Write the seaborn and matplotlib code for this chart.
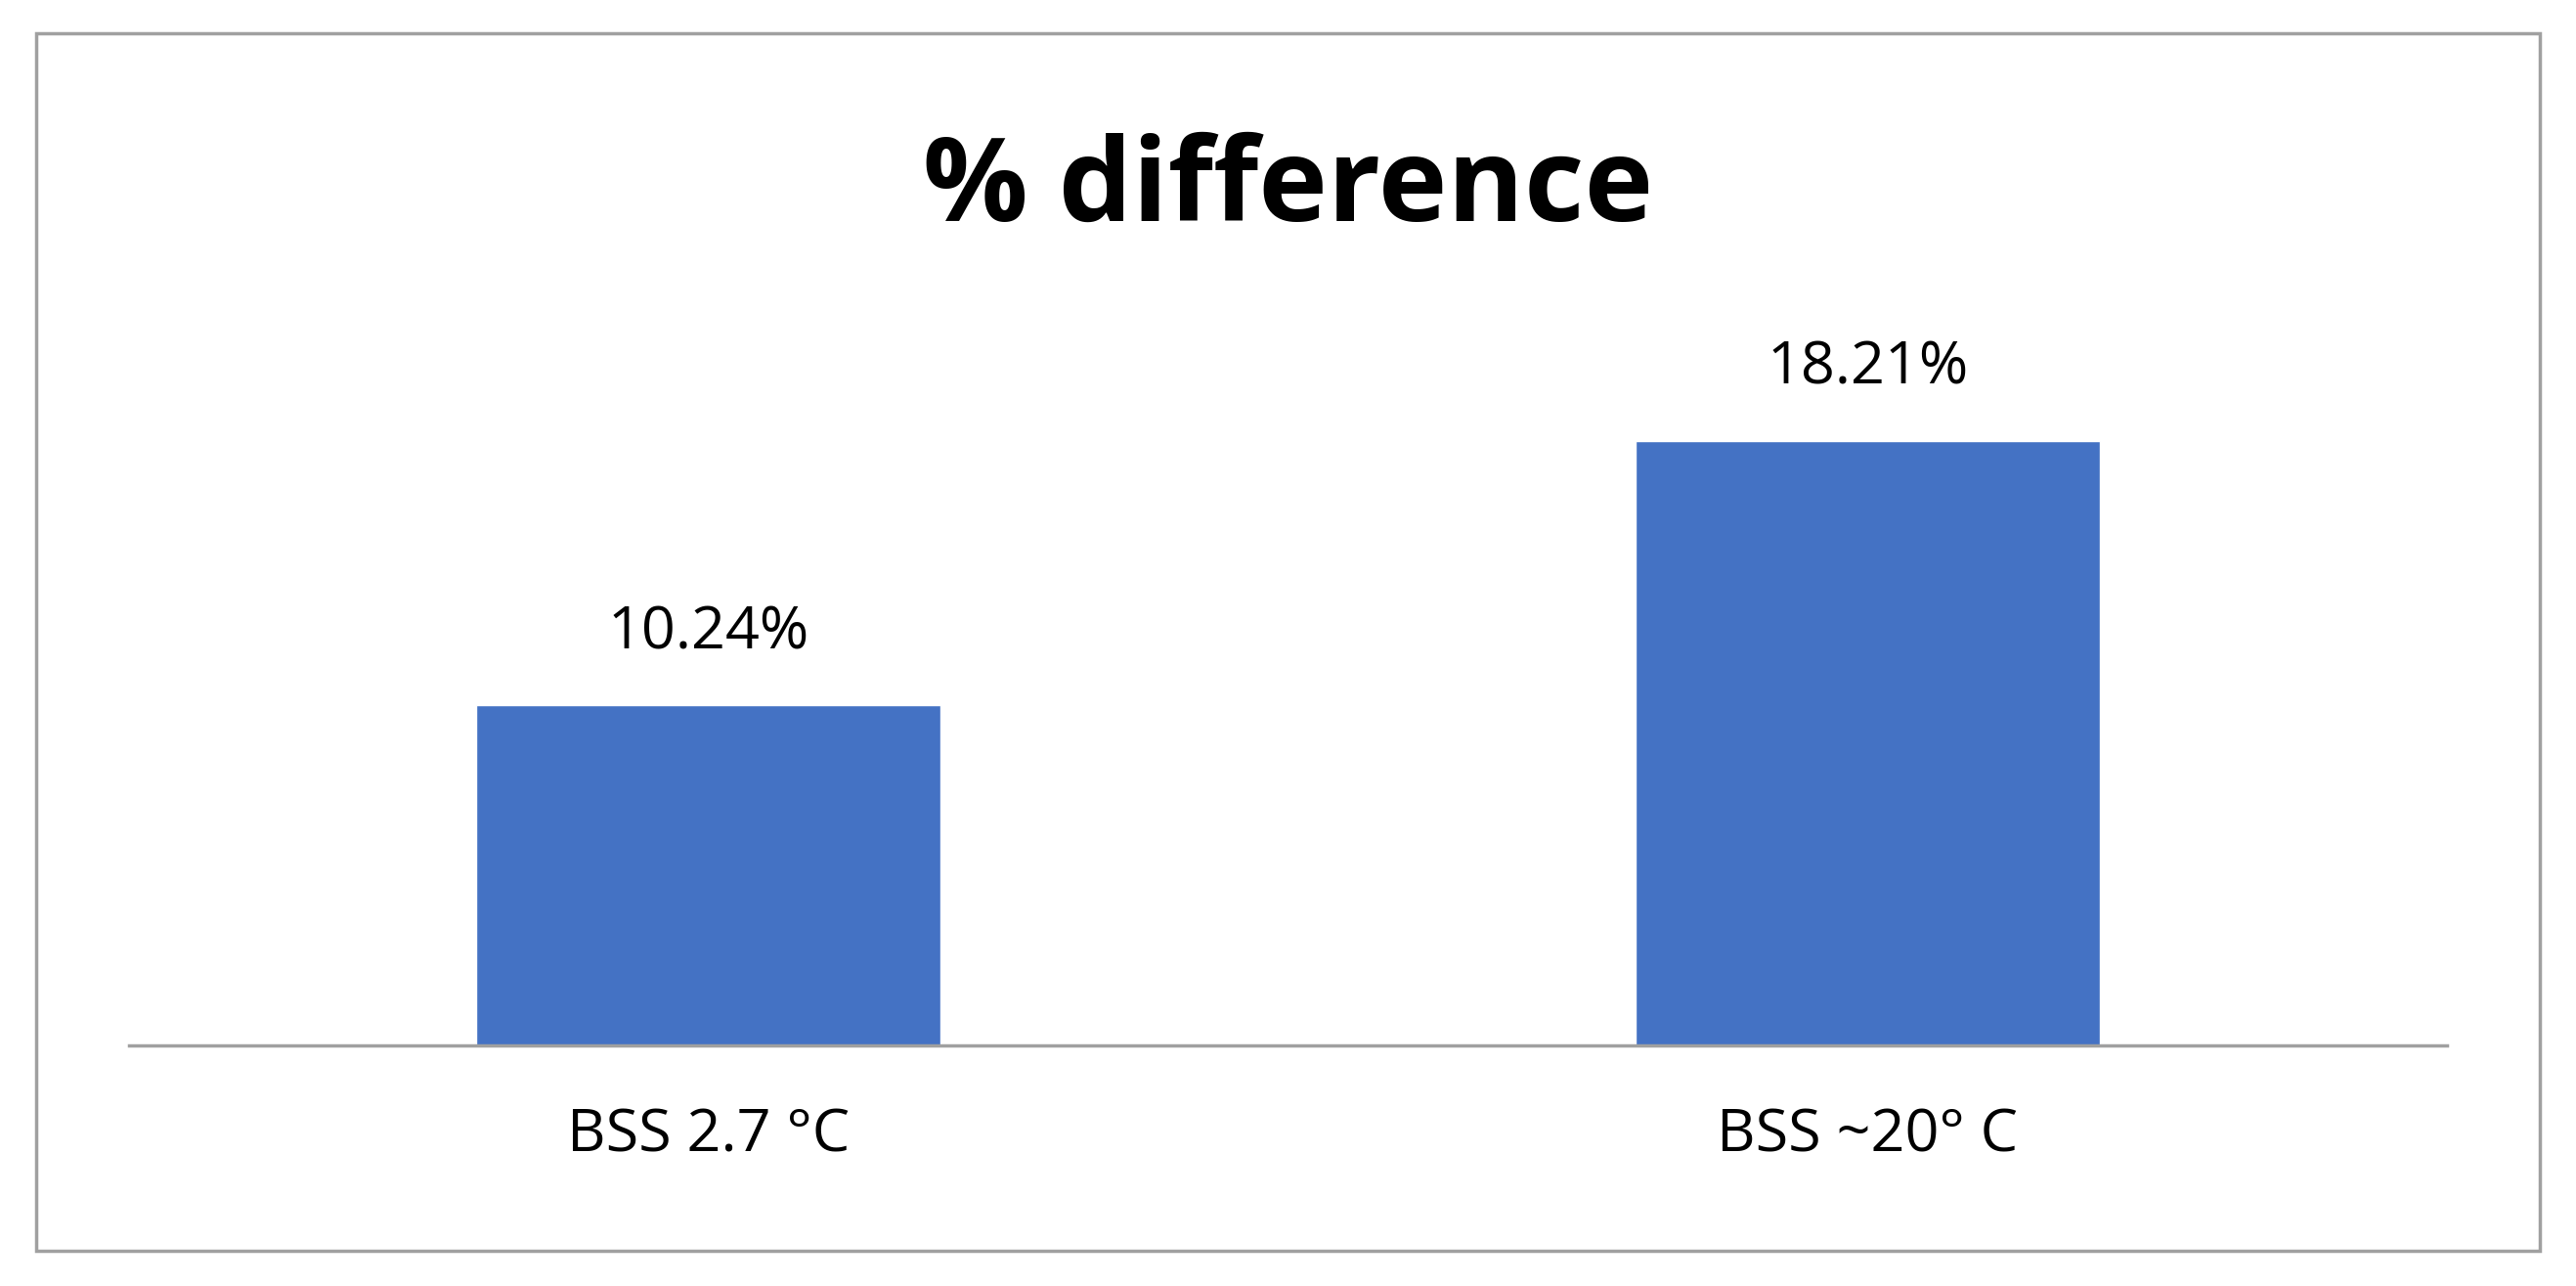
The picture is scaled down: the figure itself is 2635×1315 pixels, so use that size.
import matplotlib
matplotlib.use('Agg')
import matplotlib.pyplot as plt
import seaborn as sns
import pandas as pd
from matplotlib.patches import Rectangle

categories = ['BSS 2.7 °C', 'BSS ~20° C']
values = [10.24, 18.21]

sns.set_theme(style='white')
plt.rcParams['font.family'] = ['Open Sans', 'DejaVu Sans']

df = pd.DataFrame({'cat': categories, 'val': values})

fig = plt.figure(figsize=(26.35, 13.15), dpi=100)
ax = fig.add_axes([0.050, 0.187, 0.900, 0.594])
sns.barplot(data=df, x='cat', y='val', color='#4472C4', width=0.4, saturation=1, ax=ax)

# value labels above bars
for i, v in enumerate(values):
    ax.text(i, v + 1.3, f'{v:.2f}%', ha='center', va='bottom', fontsize=44, color='#000000')

ax.set_xlim(-0.5, 1.5)
ax.set_ylim(0, 23)
ax.set_yticks([])
ax.set_xlabel('')
ax.set_ylabel('')
ax.tick_params(axis='x', labelsize=44, pad=45, length=0, colors='#000000')
for s in ['top', 'right', 'left']:
    ax.spines[s].set_visible(False)
ax.spines['bottom'].set_color('#A0A0A0')
ax.spines['bottom'].set_linewidth(2.5)

fig.text(0.5, 0.852, '% difference', ha='center', va='center', fontsize=86,
         fontweight='bold', color='#000000')
fig.patches.append(Rectangle((0.014, 0.027), 0.972, 0.947, transform=fig.transFigure,
                             fill=False, edgecolor='#A0A0A0', linewidth=2.5))

fig.savefig('out.png', dpi=100)
